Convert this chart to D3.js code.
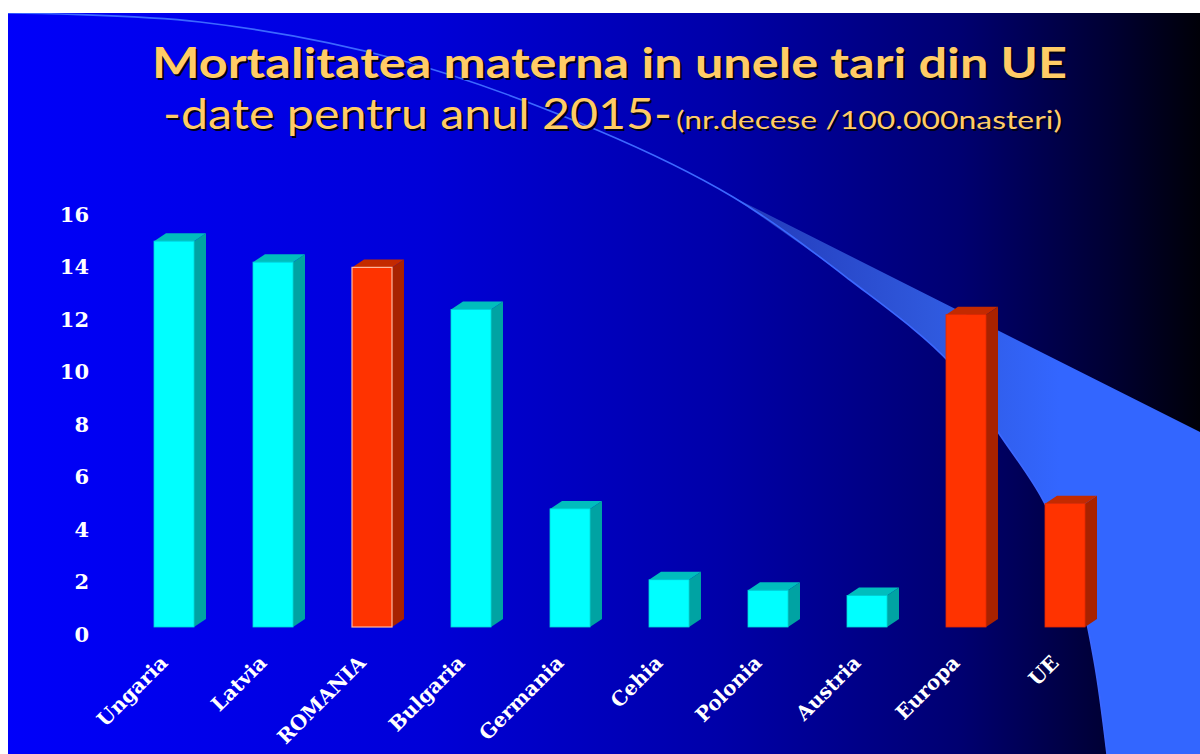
<!DOCTYPE html>
<html>
<head>
<meta charset="utf-8">
<script src="https://cdn.jsdelivr.net/npm/d3@7"></script>
<style>
  body { margin: 0; background: #ffffff; }
  svg { display: block; }
</style>
</head>
<body>
<div id="svgdiv"></div>
<script>
// chart data
var categories = ["Ungaria", "Latvia", "ROMANIA", "Bulgaria", "Germania",
                  "Cehia", "Polonia", "Austria", "Europa", "UE"];
var values = [14.7, 13.9, 13.7, 12.1, 4.5, 1.8, 1.4, 1.2, 11.9, 4.7];
var highlighted = ["ROMANIA", "Europa", "UE"];
var yTicks = [0, 2, 4, 6, 8, 10, 12, 14, 16];

var width = 1200, height = 754;

let svg = d3.select("#svgdiv").append("svg")
    .attr("width", width)
    .attr("height", height);

let defs = svg.append("defs");

// background gradient, blue to black
let bg = defs.append("linearGradient").attr("id", "bggrad")
    .attr("x1", "0").attr("x2", "1").attr("y1", "0").attr("y2", "0");
bg.append("stop").attr("offset", "0").attr("stop-color", "#0000fa");
bg.append("stop").attr("offset", "0.35").attr("stop-color", "#0000d8");
bg.append("stop").attr("offset", "0.6").attr("stop-color", "#0000a8");
bg.append("stop").attr("offset", "0.8").attr("stop-color", "#000070");
bg.append("stop").attr("offset", "0.93").attr("stop-color", "#000030");
bg.append("stop").attr("offset", "1").attr("stop-color", "#000008");

let sw = defs.append("linearGradient").attr("id", "swgrad")
    .attr("gradientUnits", "userSpaceOnUse")
    .attr("x1", 730).attr("x2", 1060).attr("y1", 0).attr("y2", 0);
sw.append("stop").attr("offset", "0").attr("stop-color", "#2238b8");
sw.append("stop").attr("offset", "0.6").attr("stop-color", "#2f58dc");
sw.append("stop").attr("offset", "1").attr("stop-color", "#3366ff");

svg.append("rect")
    .attr("x", 8).attr("y", 13)
    .attr("width", width - 8).attr("height", height - 13)
    .style("fill", "url(#bggrad)");

// the swoosh in the background
var arcPoints = [[8, 13], [200, 22], [400, 60], [597, 130], [733, 197],
                 [850, 280], [950, 363], [1000, 435], [1043, 500],
                 [1075, 575], [1094, 660], [1107, 754]];
let curve = d3.line().curve(d3.curveCatmullRom);

let clip = defs.append("clipPath").attr("id", "bgclip");
clip.append("rect").attr("x", 8).attr("y", 13)
    .attr("width", width - 8).attr("height", height - 13);

let back = svg.append("g").attr("clip-path", "url(#bgclip)");
back.append("path")
    .attr("d", curve(arcPoints.slice(4)) + "L1200,754L1200,432L733,197Z")
    .style("fill", "url(#swgrad)");
back.append("path")
    .attr("d", curve(arcPoints))
    .style("fill", "none")
    .style("stroke", "#3c68ff")
    .style("stroke-width", 1.6);

// title
var titleColor = "#ffcc66";
function title(x, y, txt, size, weight, len){
    svg.append("text")
       .attr("x", x + 2).attr("y", y + 2)
       .attr("textLength", len).attr("lengthAdjust", "spacingAndGlyphs")
       .style("font-family", "Lato, 'Open Sans', sans-serif")
       .style("font-size", size + "px")
       .style("font-weight", weight)
       .style("fill", "#000018")
       .text(txt);
    svg.append("text")
       .attr("x", x).attr("y", y)
       .attr("textLength", len).attr("lengthAdjust", "spacingAndGlyphs")
       .style("font-family", "Lato, 'Open Sans', sans-serif")
       .style("font-size", size + "px")
       .style("font-weight", weight)
       .style("fill", titleColor)
       .text(txt);
}
title(152, 78, "Mortalitatea materna in unele tari din UE", 42, "bold", 915);
title(163, 129, "-date pentru anul 2015-", 42, "normal", 509);
title(676, 129, "(nr.decese /100.000nasteri)", 25, "normal", 386);

// scales
let x = d3.scaleBand()
    .domain(categories)
    .range([124.5, 1114.5])
    .paddingInner(0.596)
    .paddingOuter(0.298);

let y = d3.scaleLinear().domain([0, 16]).range([627, 207]);
// tick labels sit a bit lower, on the front of the 3d floor
let yLab = d3.scaleLinear().domain([0, 16]).range([634.5, 214.5]);

let serif = "'DejaVu Serif', 'Liberation Serif', serif";

let yAxis = svg.append("g")
    .attr("transform", "translate(89,0)")
    .call(d3.axisLeft(yLab).tickValues(yTicks).tickSize(0).tickPadding(0));
yAxis.select(".domain").remove();
yAxis.selectAll("text")
    .style("font-family", serif)
    .style("font-size", "21px")
    .style("font-weight", "bold")
    .style("fill", "#ffffff");

// 3d columns
var dx = 12, dy = 8;
let bars = svg.selectAll(".bar")
    .data(categories)
    .enter().append("g").attr("class", "bar");

bars.each(function(d, i){
    let g = d3.select(this);
    let red = highlighted.indexOf(d) >= 0;
    let x0 = x(d), w = x.bandwidth();
    let top = y(values[i]), base = y(0);

    g.append("polygon")
     .attr("points", [[x0 + w, top], [x0 + w + dx, top - dy],
                      [x0 + w + dx, base - dy], [x0 + w, base]].join(" "))
     .style("fill", red ? "#a82200" : "#00a3a3");
    g.append("polygon")
     .attr("points", [[x0, top], [x0 + dx, top - dy],
                      [x0 + w + dx, top - dy], [x0 + w, top]].join(" "))
     .style("fill", red ? "#c42a00" : "#00bdbd");
    g.append("rect")
     .attr("x", x0).attr("y", top)
     .attr("width", w).attr("height", base - top)
     .style("fill", red ? "#ff3300" : "#00ffff")
     .style("stroke", d == "ROMANIA" ? "#ffb8a0" : (red ? "#e02a00" : "#00d8d8"))
     .style("stroke-width", d == "ROMANIA" ? 1.2 : 0.8);
});

// category labels, rotated
svg.selectAll(".xlab")
   .data(categories)
   .enter().append("text")
   .attr("class", "xlab")
   .attr("transform", function(d){
        return "translate(" + (x(d) + x.bandwidth() / 2 - 5) + ",664) rotate(-45)";
    })
   .attr("text-anchor", "end")
   .style("font-family", serif)
   .style("font-size", "20px")
   .style("font-weight", "bold")
   .style("fill", "#ffffff")
   .text(function(d){ return d; });
</script>
</body>
</html>
